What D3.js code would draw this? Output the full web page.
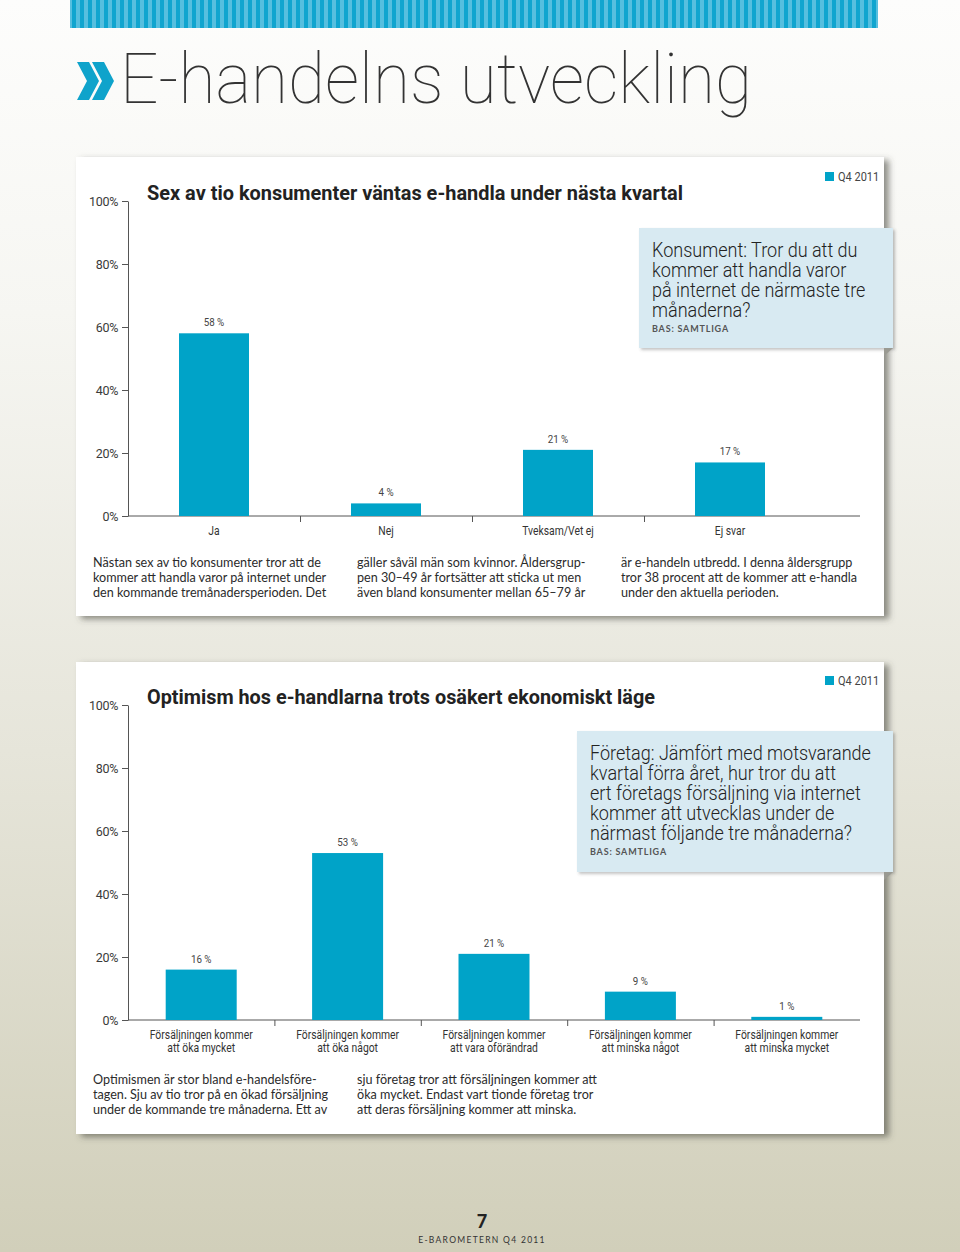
<!DOCTYPE html>
<html><head><meta charset="utf-8">
<script src="https://cdn.jsdelivr.net/npm/d3@7"></script>
<style>
html,body{margin:0;padding:0;background:#fff;}
svg{display:block}
</style></head><body>
<svg id="c" width="960" height="1252"></svg>
<script>
// ---------- data ----------
const pageTitle = "E-handelns utveckling";
const yTicks = [0, 20, 40, 60, 80, 100];
const legendLabel = "Q4 2011";
const baseLabel = "BAS: SAMTLIGA";

const chart1Title = "Sex av tio konsumenter väntas e-handla under nästa kvartal";
const chart1Categories = ["Ja", "Nej", "Tveksam/Vet ej", "Ej svar"];
const chart1Values = [58, 4, 21, 17];
const chart1Question = ["Konsument: Tror du att du", "kommer att handla varor", "på internet de närmaste tre", "månaderna?"];
const chart1Text = [
  ["Nästan sex av tio konsumenter tror att de", "kommer att handla varor på internet under", "den kommande tremånadersperioden. Det"],
  ["gäller såväl män som kvinnor. Åldersgrup-", "pen 30–49 år fortsätter att sticka ut men", "även bland konsumenter mellan 65–79 år"],
  ["är e-handeln utbredd. I denna åldersgrupp", "tror 38 procent att de kommer att e-handla", "under den aktuella perioden."]
];

const chart2Title = "Optimism hos e-handlarna trots osäkert ekonomiskt läge";
const chart2Categories = [
  ["Försäljningen kommer", "att öka mycket"],
  ["Försäljningen kommer", "att öka något"],
  ["Försäljningen kommer", "att vara oförändrad"],
  ["Försäljningen kommer", "att minska något"],
  ["Försäljningen kommer", "att minska mycket"]
];
const chart2Values = [16, 53, 21, 9, 1];
const chart2Question = ["Företag: Jämfört med motsvarande", "kvartal förra året, hur tror du att", "ert företags försäljning via internet", "kommer att utvecklas under de", "närmast följande tre månaderna?"];
const chart2Text = [
  ["Optimismen är stor bland e-handelsföre-", "tagen. Sju av tio tror på en ökad försäljning", "under de kommande tre månaderna. Ett av"],
  ["sju företag tror att försäljningen kommer att", "öka mycket. Endast vart tionde företag tror", "att deras försäljning kommer att minska."]
];

const footerPage = "7";
const footerLabel = "E-BAROMETERN Q4 2011";

// ---------- styles ----------
const BAR = "#00a3c8";
const BOX = "#d8eaf2";
const TXT = "#2b2b2b";
const AX = "#555";
const COND = "Roboto, 'Liberation Sans', sans-serif";
const BODY = "Lato, 'Open Sans', sans-serif";

const svg = d3.select("#c");
const defs = svg.append("defs");

const bg = defs.append("linearGradient").attr("id", "bg").attr("x1", 0).attr("y1", 0).attr("x2", 0).attr("y2", 1);
bg.append("stop").attr("offset", "0").attr("stop-color", "#fdfdfc");
bg.append("stop").attr("offset", "0.25").attr("stop-color", "#f6f6f2");
bg.append("stop").attr("offset", "0.6").attr("stop-color", "#e6e5da");
bg.append("stop").attr("offset", "1").attr("stop-color", "#d1cfba");

const pat = defs.append("pattern").attr("id", "stripes").attr("patternUnits", "userSpaceOnUse")
  .attr("width", 8).attr("height", 30);
pat.append("rect").attr("width", 8).attr("height", 30).attr("fill", "#10a5cf");
pat.append("rect").attr("x", 4).attr("width", 4).attr("height", 30).attr("fill", "#56bfdf");

const sh = defs.append("filter").attr("id", "shadow").attr("x", "-5%").attr("y", "-5%").attr("width", "115%").attr("height", "115%");
sh.append("feDropShadow").attr("dx", 5).attr("dy", 3).attr("stdDeviation", 3)
  .attr("flood-color", "#4a4a40").attr("flood-opacity", 0.6);
const sh2 = defs.append("filter").attr("id", "shadow2").attr("x", "-5%").attr("y", "-5%").attr("width", "115%").attr("height", "120%");
sh2.append("feDropShadow").attr("dx", 2).attr("dy", 2).attr("stdDeviation", 1.5)
  .attr("flood-color", "#555").attr("flood-opacity", 0.35);

// background
svg.append("rect").attr("width", 960).attr("height", 1252).attr("fill", "url(#bg)");

// top stripe banner
svg.append("rect").attr("x", 70).attr("y", 0).attr("width", 808).attr("height", 28).attr("fill", "url(#stripes)");

// page title with chevrons
const chev = svg.append("g").attr("fill", "#0fa3cb");
[0, 15].forEach(dx => {
  chev.append("path").attr("d",
    `M${77 + dx},62 L${89 + dx},62 L${99 + dx},81 L${89 + dx},100 L${77 + dx},100 L${87 + dx},81 Z`);
});
svg.append("text").attr("x", 120).attr("y", 103)
  .attr("font-family", "Roboto, sans-serif").attr("font-weight", 100)
  .attr("font-size", 71).attr("fill", "#333")
  .attr("textLength", 632).attr("lengthAdjust", "spacingAndGlyphs")
  .text(pageTitle);

function scaledText(g, x, y, s, str, opts) {
  const gg = g.append("g").attr("transform", `translate(${x},${y}) scale(${s},1)`);
  const t = gg.append("text").attr("x", 0).attr("y", 0).text(str);
  Object.entries(opts).forEach(([k, v]) => t.attr(k, v));
  return t;
}

function drawCard(cfg) {
  const g = svg.append("g");
  // card
  g.append("rect").attr("x", 76).attr("y", cfg.top).attr("width", 808).attr("height", cfg.bottom - cfg.top)
    .attr("fill", "#fff").attr("filter", "url(#shadow)");

  const y = d3.scaleLinear().domain([0, 100]).range([cfg.y0, cfg.y0 - 315]);
  const x = d3.scaleBand().domain(d3.range(cfg.values.length)).range([128, cfg.xEnd]).padding(0);

  // y axis
  const ya = g.append("g").attr("transform", "translate(128,0)")
    .call(d3.axisLeft(y).tickValues(yTicks).tickFormat(d => d + "%").tickSize(6).tickSizeOuter(0).tickPadding(4));
  ya.select(".domain").attr("stroke", AX);
  ya.selectAll(".tick line").attr("stroke", AX);
  ya.selectAll(".tick text").attr("font-family", COND).attr("font-size", 12.5).attr("fill", "#3a3a3a")
    .attr("letter-spacing", "-0.3px");

  // x axis line and boundary ticks
  g.append("line").attr("x1", 128).attr("x2", cfg.axisEnd).attr("y1", cfg.y0).attr("y2", cfg.y0)
    .attr("stroke", AX).attr("stroke-width", 1);
  g.selectAll("line.bt").data(x.domain().slice(1)).join("line").attr("class", "bt")
    .attr("x1", d => x(d) + 0.5).attr("x2", d => x(d) + 0.5)
    .attr("y1", cfg.y0).attr("y2", cfg.y0 + 6).attr("stroke", AX);

  // bars
  g.selectAll("rect.bar").data(cfg.values).join("rect").attr("class", "bar")
    .attr("x", (d, i) => x(i) + (x.bandwidth() - cfg.barW) / 2)
    .attr("width", cfg.barW)
    .attr("y", d => y(d)).attr("height", d => cfg.y0 - y(d))
    .attr("fill", BAR);

  // value labels
  cfg.values.forEach((v, i) => {
    scaledText(g, x(i) + x.bandwidth() / 2, y(v) - 7, 0.85, v + " %",
      { "text-anchor": "middle", "font-family": COND, "font-size": 11.5, "fill": "#444" });
  });

  // category labels
  cfg.cats.forEach((c, i) => {
    const lines = Array.isArray(c) ? c : [c];
    lines.forEach((l, j) => {
      scaledText(g, x(i) + x.bandwidth() / 2, cfg.y0 + 19 + j * 13, 0.83, l,
        { "text-anchor": "middle", "font-family": COND, "font-size": 12.5, "fill": "#333" });
    });
  });

  // title
  g.append("text").attr("x", 147).attr("y", cfg.titleY)
    .attr("font-family", COND).attr("font-weight", 700).attr("font-size", 21).attr("fill", "#222")
    .attr("textLength", cfg.titleW).attr("lengthAdjust", "spacingAndGlyphs")
    .text(cfg.title);

  // legend
  g.append("rect").attr("x", 825).attr("y", cfg.legY - 9).attr("width", 9).attr("height", 9).attr("fill", BAR);
  scaledText(g, 838, cfg.legY, 0.88, legendLabel, { "font-family": COND, "font-size": 12.5, "fill": "#444" });

  // question box
  const b = cfg.box;
  g.append("rect").attr("x", b.x).attr("y", b.y).attr("width", 893 - b.x).attr("height", b.h)
    .attr("fill", BOX).attr("filter", "url(#shadow2)");
  g.append("path").attr("d", `M${884},${b.y + b.h} L${893},${b.y + b.h} L${884},${b.y + b.h + 8} Z`)
    .attr("fill", "#9a9a92");
  cfg.question.forEach((l, j) => {
    scaledText(g, b.x + 13, b.y + 29 + j * 20, 0.88, l,
      { "font-family": COND, "font-weight": 300, "font-size": 20.5, "fill": "#222" });
  });
  g.append("text").attr("x", b.x + 13).attr("y", b.y + 29 + (cfg.question.length - 1) * 20 + 15)
    .attr("font-family", "Lato, sans-serif").attr("font-weight", 700).attr("font-size", 9)
    .attr("letter-spacing", "0.8px").attr("fill", "#555").text(baseLabel);

  // body text columns
  cfg.text.forEach((col, ci) => {
    col.forEach((l, j) => {
      g.append("text").attr("x", 93 + ci * 264).attr("y", cfg.textY + j * 15)
        .attr("font-family", BODY).attr("font-size", 12.6).attr("fill", TXT).text(l);
    });
  });
}

drawCard({
  top: 157, bottom: 616, y0: 516, xEnd: 816, axisEnd: 860, barW: 70,
  values: chart1Values, cats: chart1Categories, title: chart1Title, titleY: 200, titleW: 536,
  legY: 181, box: { x: 639, y: 228, h: 120 }, question: chart1Question,
  text: chart1Text, textY: 567
});
drawCard({
  top: 662, bottom: 1134, y0: 1020, xEnd: 860, axisEnd: 860, barW: 71,
  values: chart2Values, cats: chart2Categories, title: chart2Title, titleY: 704, titleW: 508,
  legY: 685, box: { x: 577, y: 731, h: 141 }, question: chart2Question,
  text: chart2Text, textY: 1084
});

// footer
svg.append("text").attr("x", 482).attr("y", 1228).attr("text-anchor", "middle")
  .attr("font-family", "Lato, sans-serif").attr("font-weight", 900).attr("font-size", 18).attr("fill", "#222")
  .text(footerPage);
svg.append("text").attr("x", 482).attr("y", 1243).attr("text-anchor", "middle")
  .attr("font-family", "Lato, sans-serif").attr("font-size", 8.5).attr("letter-spacing", "1.3px").attr("fill", "#333")
  .text(footerLabel);
</script>
</body></html>
